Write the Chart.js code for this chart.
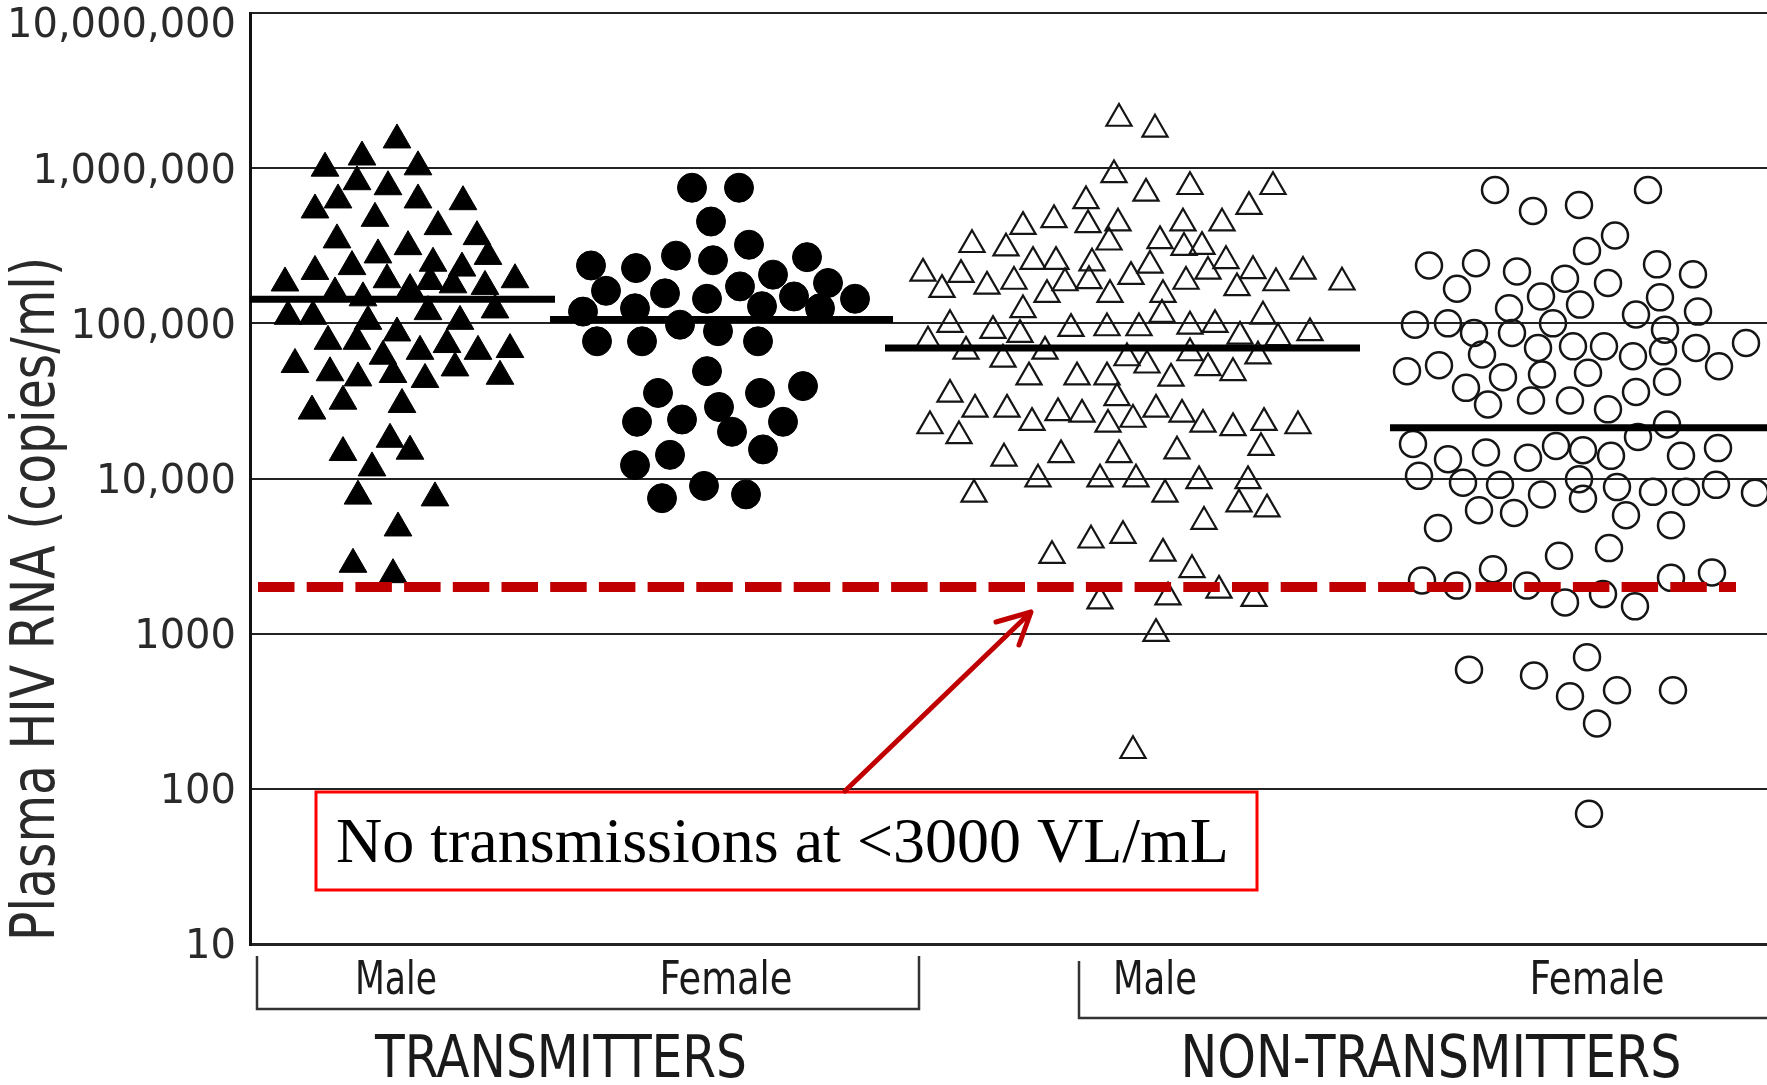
<!DOCTYPE html>
<html>
<head>
<meta charset="utf-8">
<title>Plasma HIV RNA: transmitters vs non-transmitters</title>
<script src="https://cdn.jsdelivr.net/npm/chart.js@4.4.0/dist/chart.umd.min.js"></script>
<style>
  html, body { margin: 0; padding: 0; background: #fff; }
  #chart { display: block; }
</style>
</head>
<body>
<canvas id="chart" width="1767" height="1085"></canvas>
<script>
// log axis, copies/ml
const yTickValues = [10, 100, 1000, 10000, 100000, 1000000, 10000000];
const yTickLabels = ["10", "100", "1000", "10,000", "100,000", "1,000,000", "10,000,000"];

// x axis is a plain 0..151.7 spread axis, groups sit side by side on it
const subgroupLabels = ["Male", "Female", "Male", "Female"];
const subgroupCenters = [14.6, 47.6, 90.5, 134.7];
const groupLabels = ["TRANSMITTERS", "NON-TRANSMITTERS"];
const groupCenters = [31.1, 118.1];
const groupBrackets = [[0.7, 66.9], [82.9, 160]];

// [spread position, copies/ml]
const transmitterMale = [
  [14.7, 1520000], [11.2, 1180000], [7.5, 1000000], [16.8, 1020000], [10.7, 818000],
  [13.8, 759000], [8.8, 624000], [16.8, 624000], [21.3, 608000], [6.5, 538000],
  [12.5, 475000], [18.8, 420000], [8.7, 345000], [15.8, 312000], [22.7, 362000],
  [12.8, 276000], [23.8, 270000], [10.2, 232000], [18.3, 244000], [6.5, 216000],
  [21.2, 227000], [13.7, 191000], [3.5, 182000], [26.5, 191000], [8.5, 157000],
  [16, 165000], [18, 186000], [20.3, 177000], [23.5, 173000], [11.3, 146000],
  [3.8, 111000], [6.3, 111000], [17.8, 119000], [21, 103000], [24.5, 122000],
  [11.8, 103000], [14.7, 86700], [7.8, 76600], [10.7, 76600], [17, 66000],
  [19.7, 73000], [22.8, 66000], [26, 67800], [13.3, 61400], [4.5, 54300],
  [8, 48000], [10.8, 44500], [14.3, 46800], [17.5, 43500], [20.5, 51600],
  [25, 45600], [9.3, 31500], [6.2, 27200], [15.2, 30000], [14, 17900],
  [9.3, 14700], [16, 15000], [12.2, 11700], [10.8, 7700], [18.5, 7500],
  [14.8, 4800], [10.3, 2800], [14.3, 2400]
];

const transmitterFemale = [
  [44.2, 748000], [48.9, 748000], [46.1, 453000], [49.9, 321000], [42.6, 273000],
  [46.3, 255000], [55.7, 267000], [34.1, 236000], [38.6, 227000], [35.6, 162000],
  [41.5, 156000], [49, 173000], [52.3, 206000], [57.8, 182000], [45.7, 144000],
  [54.4, 149000], [60.5, 144000], [33.3, 119000], [38.5, 125000], [51.2, 129000],
  [57, 125000], [43, 98000], [46.8, 89000], [34.7, 76600], [39.2, 76600],
  [50.8, 76600], [45.7, 49200], [40.8, 35600], [51, 35600], [55.3, 39400],
  [46.9, 28900], [38.7, 23200], [43.2, 24000], [48.2, 20000], [53.3, 23200],
  [42, 14200], [51.3, 15400], [38.5, 12200], [45.4, 8960], [41.2, 7470],
  [49.6, 7900]
];

const nonTransmitterMale = [
  [86.9, 2090000], [90.5, 1780000], [86.4, 904000], [94, 759000], [102.3, 759000],
  [89.6, 688000], [83.6, 615000], [99.9, 565000], [80.4, 464000], [77.3, 420000],
  [83.8, 431000], [86.8, 442000], [93.3, 442000], [97.2, 442000], [72.2, 321000],
  [75.6, 305000], [85.9, 333000], [91, 340000], [93.4, 308000], [95.2, 312000],
  [67.3, 210000], [71.1, 206000], [78.3, 250000], [80.6, 250000], [84.2, 244000],
  [90, 236000], [97.6, 253000], [95.8, 216000], [100.3, 218000], [105.3, 216000],
  [69.2, 165000], [73.7, 173000], [76.4, 186000], [81.5, 182000], [83.9, 188000],
  [88.1, 200000], [93.6, 186000], [98.7, 169000], [102.6, 182000], [109.2, 184000],
  [79.7, 153000], [86, 153000], [91.3, 153000], [77.3, 122000], [91.2, 114000],
  [101.3, 111000], [70, 98000], [74.3, 89800], [77, 84600], [82.1, 92500],
  [85.7, 93300], [88.9, 93300], [94, 95700], [96.5, 98000], [99, 82400],
  [102.8, 80500], [106, 86700], [67.8, 76600], [71.6, 66000], [75.3, 58500],
  [79.5, 66000], [87.7, 59800], [89.7, 53700], [94, 64400], [100.8, 61400],
  [95.8, 51600], [98.3, 48000], [77.9, 45000], [82.7, 45000], [85.7, 45000],
  [92.1, 44200], [70, 34800], [72.5, 27900], [75.7, 27900], [68, 21800],
  [70.9, 18800], [78.2, 22900], [80.8, 26500], [83.2, 25900], [86.7, 33100],
  [85.8, 22300], [88.3, 24000], [90.6, 27900], [93.2, 25900], [95.3, 22300],
  [98.3, 21200], [101.4, 22900], [104.8, 21800], [101.1, 15800], [75.4, 13500],
  [81.1, 14200], [86.9, 14200], [92.7, 15000], [78.8, 9900], [85, 9900],
  [88.6, 9900], [94.9, 9660], [99.8, 9660], [72.4, 7900], [91.5, 7900],
  [98.9, 6840], [101.7, 6350], [95.4, 5280], [84.1, 4000], [87.3, 4280],
  [80.2, 3180], [91.3, 3290], [94.2, 2580], [96.9, 1900], [85, 1620],
  [91.8, 1720], [100.4, 1680], [90.6, 1000], [88.3, 176]
];

const nonTransmitterFemale = [
  [124.5, 723000], [128.3, 530000], [132.9, 579000], [139.8, 723000], [136.5, 368000],
  [133.7, 293000], [117.9, 236000], [122.6, 244000], [126.7, 216000], [140.7, 240000],
  [144.3, 207000], [120.7, 167000], [131.5, 194000], [135.8, 182000], [129.1, 149000],
  [125.9, 125000], [133, 132000], [141, 147000], [138.6, 114000], [144.8, 119000],
  [116.5, 98000], [119.8, 100000], [122.4, 86700], [126.2, 86700], [130.3, 100000],
  [141.5, 91000], [149.6, 74700], [123.2, 63000], [128.8, 69400], [132.3, 71100],
  [135.4, 71100], [138.3, 61400], [141.3, 66000], [144.6, 69400], [146.9, 52900],
  [115.7, 49200], [118.9, 53700], [125.3, 45000], [129.2, 46800], [133.8, 48000],
  [121.6, 38400], [123.8, 30000], [128.1, 31800], [132, 31800], [135.8, 27900],
  [138.6, 36100], [141.7, 42000], [116.3, 16700], [119.8, 13300], [123.6, 14700],
  [127.8, 13600], [130.6, 16200], [133.3, 15200], [136.1, 14000], [138.8, 18500],
  [141.7, 22300], [143.1, 14000], [146.8, 15700], [116.9, 10400], [121.3, 9400],
  [125, 9100], [129.2, 7900], [132.9, 9900], [133.3, 7400], [136.7, 8800],
  [140.3, 8200], [143.6, 8200], [146.6, 9100], [150.5, 8100], [122.9, 6250],
  [126.4, 6000], [137.6, 5800], [118.8, 4800], [142.1, 5000], [130.9, 3180],
  [135.9, 3560], [117.2, 2200], [120.7, 2040], [124.3, 2600], [127.7, 2040],
  [131.5, 1590], [135.3, 1800], [138.5, 1500], [142.1, 2290], [146.2, 2480],
  [121.9, 586], [128.4, 538], [133.7, 706], [132, 395], [136.7, 432],
  [142.3, 432], [134.7, 264], [133.9, 69]
];

// group medians and their horizontal extent
const medianValues = [143000, 106000, 69400, 21200];
const medianSpans = [[0, 30.5], [30, 64.3], [63.5, 111], [114, 151.7]];

const thresholdValue = 2000;
const thresholdSpan = [0.8, 148.6];
const noteText = "No transmissions at <3000 VL/mL";
const yTitle = "Plasma HIV RNA (copies/ml)";

const NARROW = '"Liberation Sans Narrow", "DejaVu Sans Condensed", "Liberation Sans", sans-serif';

function toPoints(pairs) {
  return pairs.map(([x, y]) => ({ x, y }));
}

function markerSet(label, pairs, style) {
  return {
    type: "scatter",
    label,
    data: toPoints(pairs),
    order: 2,
    ...style,
  };
}

const medianSets = medianValues.map((value, i) => ({
  type: "line",
  label: "median " + (i + 1),
  data: [{ x: medianSpans[i][0], y: value }, { x: medianSpans[i][1], y: value }],
  borderColor: "#000",
  borderWidth: 7,
  pointRadius: 0,
  order: 1,
}));

const thresholdSet = {
  type: "line",
  label: "threshold",
  data: [{ x: thresholdSpan[0], y: thresholdValue }, { x: thresholdSpan[1], y: thresholdValue }],
  borderColor: "#C00000",
  borderWidth: 10,
  borderDash: [36.5, 12.2],
  pointRadius: 0,
  order: 0,
};

// squeeze/stretch a text run to a given length so the condensed look holds
function fillFitted(ctx, text, cx, cy, targetWidth) {
  const w = ctx.measureText(text).width;
  ctx.save();
  ctx.translate(cx, cy);
  ctx.scale(targetWidth / w, 1);
  ctx.fillText(text, 0, 0);
  ctx.restore();
}

const decorations = {
  id: "decorations",

  beforeDraw(chart) {
    const { ctx, chartArea } = chart;
    const y = chart.scales.y;

    ctx.save();
    ctx.fillStyle = "#2a2a2a";
    ctx.font = '40px "DejaVu Sans", sans-serif';
    ctx.textAlign = "right";
    ctx.textBaseline = "middle";
    yTickValues.forEach((v, i) => {
      const py = Math.max(y.getPixelForValue(v) + 4, 27);
      ctx.fillText(yTickLabels[i], chartArea.left - 14, py);
    });

    ctx.translate(38, 599);
    ctx.rotate(-Math.PI / 2);
    ctx.textAlign = "center";
    ctx.font = "60px " + NARROW;
    fillFitted(ctx, yTitle, 0, 0, 684);
    ctx.restore();
  },

  afterDraw(chart) {
    const { ctx, chartArea } = chart;
    const x = chart.scales.x;
    const base = chartArea.bottom;

    ctx.save();

    // group brackets under the axis
    ctx.strokeStyle = "#333";
    ctx.lineWidth = 2.5;
    const bracketTops = [12, 17];
    const bracketBottoms = [65, 74];
    groupBrackets.forEach(([a, b], i) => {
      const xa = x.getPixelForValue(a);
      const xb = x.getPixelForValue(b);
      ctx.beginPath();
      ctx.moveTo(xa, base + bracketTops[i]);
      ctx.lineTo(xa, base + bracketBottoms[i]);
      ctx.lineTo(xb, base + bracketBottoms[i]);
      ctx.lineTo(xb, base + bracketTops[i]);
      ctx.stroke();
    });

    ctx.fillStyle = "#1a1a1a";
    ctx.textAlign = "center";
    ctx.textBaseline = "middle";
    const subgroupWidths = [82, 133, 84, 135];
    ctx.font = "46px " + NARROW;
    subgroupLabels.forEach((lab, i) => {
      fillFitted(ctx, lab, x.getPixelForValue(subgroupCenters[i]), base + 38, subgroupWidths[i]);
    });
    const groupWidths = [372, 501];
    ctx.font = "58px " + NARROW;
    groupLabels.forEach((lab, i) => {
      fillFitted(ctx, lab, x.getPixelForValue(groupCenters[i]), base + 118, groupWidths[i]);
    });

    // note box + arrow
    ctx.fillStyle = "#fff";
    ctx.fillRect(316, 792, 941, 98);
    ctx.strokeStyle = "#FF0000";
    ctx.lineWidth = 3;
    ctx.strokeRect(316, 792, 941, 98);

    ctx.fillStyle = "#000";
    ctx.textAlign = "left";
    ctx.textBaseline = "alphabetic";
    ctx.font = '64px "Liberation Serif", "Times New Roman", serif';
    ctx.fillText(noteText, 336, 862);

    ctx.strokeStyle = "#C00000";
    ctx.lineWidth = 5;
    ctx.lineCap = "round";
    ctx.lineJoin = "round";
    ctx.beginPath();
    ctx.moveTo(845, 791);
    ctx.lineTo(1031, 612);
    ctx.moveTo(996, 622);
    ctx.lineTo(1031, 612);
    ctx.lineTo(1019, 645);
    ctx.stroke();

    ctx.restore();
  },
};

new Chart(document.getElementById("chart"), {
  type: "scatter",
  data: {
    datasets: [
      thresholdSet,
      ...medianSets,
      markerSet("Transmitters, male", transmitterMale, {
        pointStyle: "triangle", pointRadius: 16,
        backgroundColor: "#000", borderColor: "#000", borderWidth: 1,
      }),
      markerSet("Transmitters, female", transmitterFemale, {
        pointStyle: "circle", pointRadius: 14.5,
        backgroundColor: "#000", borderColor: "#000", borderWidth: 1,
      }),
      markerSet("Non-transmitters, male", nonTransmitterMale, {
        pointStyle: "triangle", pointRadius: 14.5,
        backgroundColor: "rgba(0,0,0,0)", borderColor: "#151515", borderWidth: 2.2,
      }),
      markerSet("Non-transmitters, female", nonTransmitterFemale, {
        pointStyle: "circle", pointRadius: 13,
        backgroundColor: "rgba(0,0,0,0)", borderColor: "#151515", borderWidth: 2.5,
      }),
    ],
  },
  options: {
    responsive: false,
    animation: false,
    events: [],
    layout: { autoPadding: false, padding: { top: 13, right: 0, bottom: 141, left: 0 } },
    plugins: {
      legend: { display: false },
      tooltip: { enabled: false },
    },
    scales: {
      x: { type: "linear", min: 0, max: 151.7, display: false },
      y: {
        type: "logarithmic",
        min: 10,
        max: 10000000,
        afterFit(scale) {
          scale.width = 250;
        },
        afterBuildTicks(scale) {
          scale.ticks = yTickValues.map((value) => ({ value }));
        },
        ticks: { display: false },
        grid: {
          color: "#222",
          lineWidth: (c) => (c.tick && c.tick.value === 10 ? 3 : 2),
          drawTicks: false,
        },
        border: { color: "#111", width: 3 },
      },
    },
  },
  plugins: [decorations],
});
</script>
</body>
</html>
